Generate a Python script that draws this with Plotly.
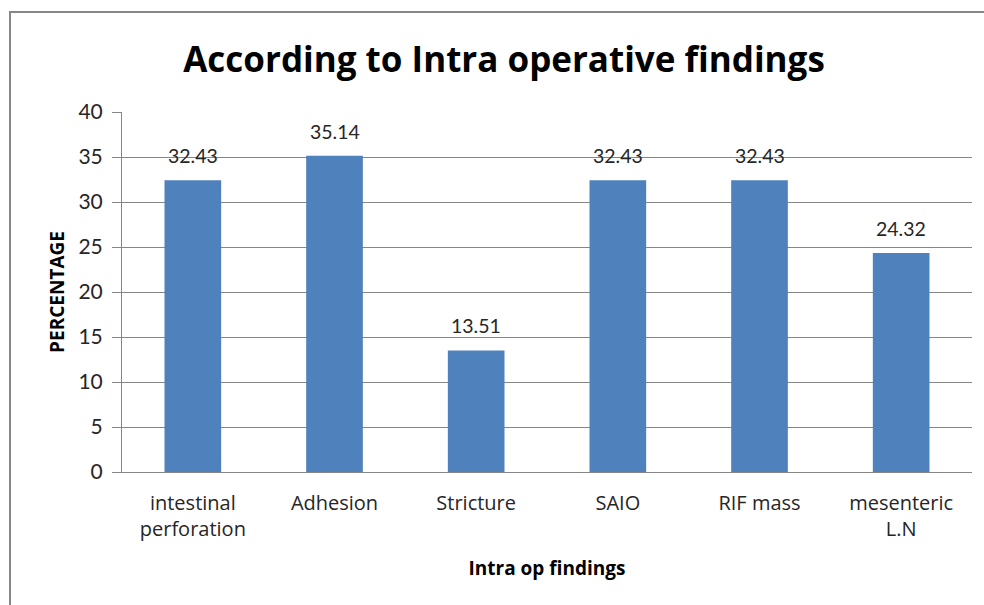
import plotly.graph_objects as go

categories = ["intestinal<br>perforation", "Adhesion", "Stricture", "SAIO", "RIF mass", "mesenteric<br>L.N"]
values = [32.43, 35.14, 13.51, 32.43, 32.43, 24.32]
value_labels = ["32.43", "35.14", "13.51", "32.43", "32.43", "24.32"]
y_ticks = [0, 5, 10, 15, 20, 25, 30, 35, 40]

LATO = "Lato, 'Open Sans', sans-serif"
OPEN = "'Open Sans', Lato, sans-serif"

fig = go.Figure()
fig.add_trace(go.Bar(
    x=categories, y=values,
    marker=dict(color="#4F81BD", line=dict(width=0)),
))

for c, v, t in zip(categories, values, value_labels):
    fig.add_annotation(x=c, y=v, text=t, showarrow=False, yanchor="bottom",
                       yshift=11, font=dict(family=LATO, size=19.5, color="#262626"))

fig.update_layout(
    width=984, height=605,
    margin=dict(l=122, r=12, t=112, b=133),
    paper_bgcolor="white", plot_bgcolor="white",
    showlegend=False,
    bargap=0.6,
    title=dict(text="<b>According to Intra operative findings</b>",
               x=504 / 984, xanchor="center", y=1 - 60 / 605, yanchor="middle",
               font=dict(family=OPEN, size=35, color="black")),
    xaxis=dict(
        title=dict(text="<b>Intra op findings</b>", font=dict(family=OPEN, size=19, color="black"), standoff=20),
        tickfont=dict(family=OPEN, size=20, color="#262626"),
        showgrid=False, showline=True, linecolor="#868686", linewidth=1,
        ticks="", ticklabelstandoff=13,
    ),
    yaxis=dict(
        title=dict(text="<b>PERCENTAGE</b>", font=dict(family=OPEN, size=19, color="black"), standoff=8),
        range=[0, 40], tickvals=y_ticks,
        tickfont=dict(family=LATO, size=21, color="#262626"),
        showgrid=True, gridcolor="#868686", gridwidth=1,
        showline=True, linecolor="#868686", linewidth=1,
        ticks="outside", ticklen=9, tickcolor="#868686",
        ticklabelstandoff=5,
        zeroline=False,
    ),
    shapes=[dict(type="rect", xref="paper", yref="paper",
                 x0=(10 - 122) / 850, x1=1.2, y0=-0.6, y1=1 + (112 - 12) / 360,
                 line=dict(color="#868686", width=2), fillcolor="rgba(0,0,0,0)", layer="below")],
)

fig.write_html("out.html")
